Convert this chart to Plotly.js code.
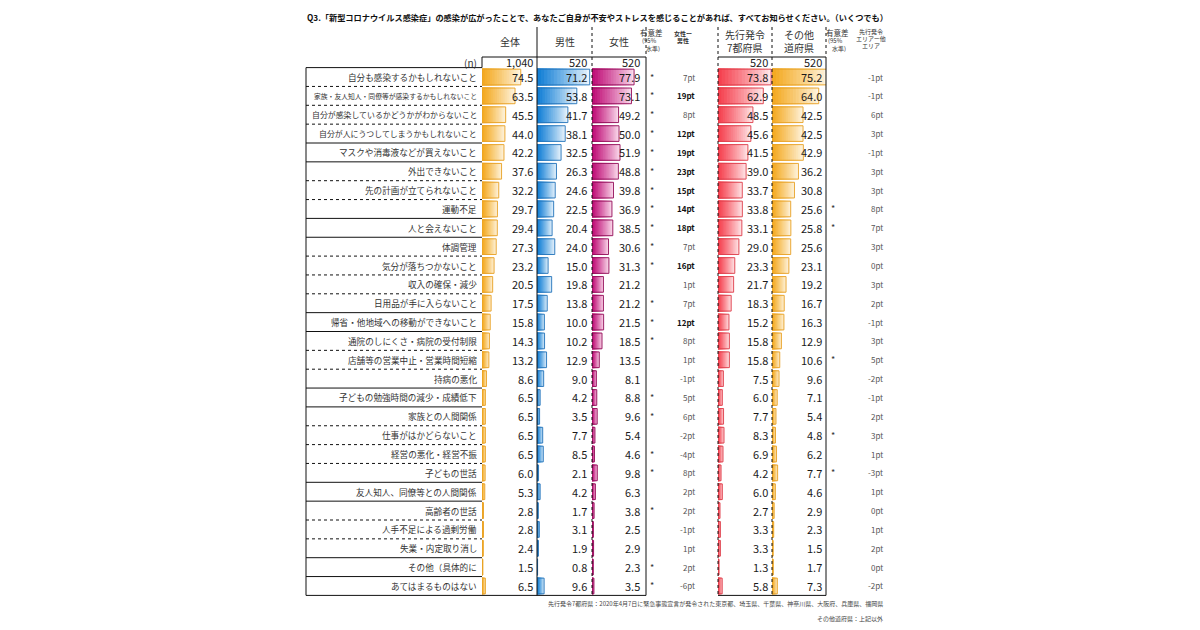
<!DOCTYPE html>
<html><head><meta charset="utf-8">
<script src="https://cdn.plot.ly/plotly-3.0.1.min.js"></script>
<style>body{margin:0;background:#fff}#chart{width:1200px;height:630px}</style>
</head><body><div id="chart"></div>
<script>
const titleText = "Q3.「新型コロナウイルス感染症」の感染が広がったことで、あなたご自身が不安やストレスを感じることがあれば、すべてお知らせください。（いくつでも）";
const labels = ["自分も感染するかもしれないこと","家族・友人知人・同僚等が感染するかもしれないこと","自分が感染しているかどうかがわからないこと","自分が人にうつしてしまうかもしれないこと","マスクや消毒液などが買えないこと","外出できないこと","先の計画が立てられないこと","運動不足","人と会えないこと","体調管理","気分が落ちつかないこと","収入の確保・減少","日用品が手に入らないこと","帰省・他地域への移動ができないこと","通院のしにくさ・病院の受付制限","店舗等の営業中止・営業時間短縮","持病の悪化","子どもの勉強時間の減少・成績低下","家族との人間関係","仕事がはかどらないこと","経営の悪化・経営不振","子どもの世話","友人知人、同僚等との人間関係","高齢者の世話","人手不足による過剰労働","失業・内定取り消し","その他（具体的に","あてはまるものはない"];
const total  = [74.5,63.5,45.5,44.0,42.2,37.6,32.2,29.7,29.4,27.3,23.2,20.5,17.5,15.8,14.3,13.2,8.6,6.5,6.5,6.5,6.5,6.0,5.3,2.8,2.8,2.4,1.5,6.5];
const male   = [71.2,53.8,41.7,38.1,32.5,26.3,24.6,22.5,20.4,24.0,15.0,19.8,13.8,10.0,10.2,12.9,9.0,4.2,3.5,7.7,8.5,2.1,4.2,1.7,3.1,1.9,0.8,9.6];
const female = [77.9,73.1,49.2,50.0,51.9,48.8,39.8,36.9,38.5,30.6,31.3,21.2,21.2,21.5,18.5,13.5,8.1,8.8,9.6,5.4,4.6,9.8,6.3,3.8,2.5,2.9,2.3,3.5];
const early  = [73.8,62.9,48.5,45.6,41.5,39.0,33.7,33.8,33.1,29.0,23.3,21.7,18.3,15.2,15.8,15.8,7.5,6.0,7.7,8.3,6.9,4.2,6.0,2.7,3.3,3.3,1.3,5.8];
const other  = [75.2,64.0,42.5,42.5,42.9,36.2,30.8,25.6,25.8,25.6,23.1,19.2,16.7,16.3,12.9,10.6,9.6,7.1,5.4,4.8,6.2,7.7,4.6,2.9,2.3,1.5,1.7,7.3];
const femSig  = [1,1,1,1,1,1,1,1,1,1,1,0,1,1,1,0,0,1,1,0,1,1,0,1,0,0,1,1];
const femDiff = [7,19,8,12,19,23,15,14,18,7,16,1,7,12,8,1,-1,5,6,-2,-4,8,2,2,-1,1,2,-6];
const areaSig  = [0,0,0,0,0,0,0,1,1,0,0,0,0,0,0,1,0,0,0,1,0,1,0,0,0,0,0,0];
const areaDiff = [-1,-1,6,3,-1,3,3,8,7,3,0,3,2,-1,3,5,-2,-1,2,3,1,-3,1,0,1,2,0,-2];
const nCounts = ["1,040","520","520","520","520"];
const footnotes = ["先行発令7都府県：2020年4月7日に緊急事態宣言が発令された東京都、埼玉県、千葉県、神奈川県、大阪府、兵庫県、福岡県","その他道府県：上記以外"];

const W = 1200, H = 630;
const px = v => v / W, py = v => 1 - v / H;
const FONT = "Noto Sans CJK JP, Noto Sans, sans-serif";
const TOP = 67.6, BOT = 595.4;
const idx = labels.map((_, i) => i);

const cols = [
  {vals: total,  ax: 'x',  x0: 482, x1: 537, scale: 0.52, dark: [244,170,34],  light: [254,244,224], border: '#E8A226', tr: 535},
  {vals: male,   ax: 'x2', x0: 537, x1: 592, scale: 0.74, dark: [20,128,214],  light: [234,244,252], border: '#2474BA', tr: 589},
  {vals: female, ax: 'x3', x0: 592, x1: 646, scale: 0.54, dark: [192,16,120],  light: [250,220,236], border: '#930D59', tr: 642},
  {vals: early,  ax: 'x4', x0: 718, x1: 772, scale: 0.72, dark: [245,66,80],   light: [255,230,232], border: '#DE3E4B', tr: 770},
  {vals: other,  ax: 'x5', x0: 772, x1: 826, scale: 0.73, dark: [244,170,34],  light: [254,244,224], border: '#E8A226', tr: 824}
];

const traces = [];
const layout = {
  width: W, height: H, margin: {l: 0, r: 0, t: 0, b: 0},
  paper_bgcolor: '#fff', plot_bgcolor: 'rgba(0,0,0,0)',
  showlegend: false, barmode: 'overlay', bargap: 0.17,
  font: {family: FONT, color: '#222'},
  yaxis: {domain: [py(BOT), py(TOP)], range: [27.5, -0.5], visible: false, fixedrange: true},
  shapes: [], annotations: []
};

const N = 16;
cols.forEach((c, ci) => {
  const axName = ci === 0 ? 'xaxis' : 'xaxis' + (ci + 1);
  layout[axName] = {domain: [px(c.x0), px(c.x1)], range: [0, (c.x1 - c.x0) / c.scale], visible: false, fixedrange: true, anchor: 'y'};
  for (let k = 0; k < N; k++) {
    const t = k / (N - 1);
    const col = `rgb(${c.light.map((l, j) => Math.round(l + (c.dark[j] - l) * Math.pow(t, 0.9)))})`;
    traces.push({type: 'bar', orientation: 'h', y: idx, x: c.vals.map(v => v * (N - k) / N),
      xaxis: c.ax, yaxis: 'y', marker: {color: col, line: {width: 0.8, color: col}}, hoverinfo: 'skip'});
  }
  traces.push({type: 'bar', orientation: 'h', y: idx, x: c.vals, xaxis: c.ax, yaxis: 'y',
    marker: {color: 'rgba(0,0,0,0)', line: {color: c.border, width: 0.9}}, hoverinfo: 'skip'});
  c.vals.forEach((v, i) => {
    layout.annotations.push({xref: 'paper', yref: 'y', x: px(c.tr), y: i, xanchor: 'right', yanchor: 'middle',
      text: v.toFixed(1), showarrow: false, font: {size: 11, color: '#1a1a1a', family: FONT}});
  });
  layout.annotations.push({xref: 'paper', yref: 'paper', x: px(c.tr), y: py(62.5), xanchor: 'right', yanchor: 'middle',
    text: nCounts[ci], showarrow: false, font: {size: 11, color: '#1a1a1a', family: FONT}});
});

// labels and difference columns
labels.forEach((l, i) => {
  const sz = i === 1 ? 6.8 : (l.length > 19 ? 7.9 : 8.6);
  layout.annotations.push({xref: 'paper', yref: 'y', x: px(479), y: i, xanchor: 'right', yanchor: 'middle',
    text: l, showarrow: false, font: {size: sz, color: '#333', family: FONT}});
  if (femSig[i]) layout.annotations.push({xref: 'paper', yref: 'y', x: px(648), y: i, xanchor: 'left', yanchor: 'middle',
    text: '*', showarrow: false, font: {size: 9, color: '#333', family: FONT}});
  if (areaSig[i]) layout.annotations.push({xref: 'paper', yref: 'y', x: px(829), y: i, xanchor: 'left', yanchor: 'middle',
    text: '*', showarrow: false, font: {size: 9, color: '#333', family: FONT}});
  const fd = femDiff[i] + 'pt';
  const strong = Math.abs(femDiff[i]) >= 10;
  layout.annotations.push({xref: 'paper', yref: 'y', x: px(697), y: i, xanchor: 'right', yanchor: 'middle',
    text: strong ? '<b>' + fd + '</b>' : fd, showarrow: false,
    font: {size: 8, color: strong ? '#111' : '#555', family: FONT}});
  layout.annotations.push({xref: 'paper', yref: 'y', x: px(885), y: i, xanchor: 'right', yanchor: 'middle',
    text: areaDiff[i] + 'pt', showarrow: false, font: {size: 8, color: '#555', family: FONT}});
});

// headers
const hdr = (text, x, y, size, opts = {}) => layout.annotations.push(Object.assign({xref: 'paper', yref: 'paper',
  x: px(x), y: py(y), xanchor: 'center', yanchor: 'middle', text, showarrow: false,
  font: {size, color: '#333', family: FONT}}, opts));
hdr('<b>' + titleText + '</b>', 305, 17, 8.2, {xanchor: 'left', font: {size: 8.2, color: '#111', family: FONT}});
hdr('全体', 510, 42, 10); hdr('男性', 565, 42, 10); hdr('女性', 619, 42, 10);
hdr('先行発令', 745, 34, 10); hdr('7都府県', 745, 48, 10);
hdr('その他', 799, 34, 10); hdr('道府県', 799, 48, 10);
[651, 837].forEach(x => { hdr('有意差', x, 32, 7.5); hdr('(95%', x - 2, 40.5, 6); hdr('水準)', x + 2, 49, 6); });
hdr('<b>女性ー</b>', 683, 33, 6); hdr('<b>男性</b>', 683, 41, 6);
hdr('先行発令', 871, 31, 6); hdr('エリアー他', 871, 38.5, 6); hdr('エリア', 871, 46, 6);
hdr('(n)', 479, 62.5, 10, {xanchor: 'right'});
hdr(footnotes[0], 885, 603, 6, {xanchor: 'right', font: {size: 6, color: '#444', family: FONT}});
hdr(footnotes[1], 885, 618, 6, {xanchor: 'right', font: {size: 6, color: '#444', family: FONT}});

// table lines
const L = (x0, y0, x1, y1, dash, yref) => layout.shapes.push({type: 'line', xref: 'paper', yref: yref || 'paper',
  x0: px(x0), x1: px(x1), y0: yref ? y0 : py(y0), y1: yref ? y1 : py(y1),
  line: {color: '#111', width: 1, dash: dash || 'solid'}});
const solidAfter = [3, 4, 7, 8, 12, 13, 16, 17, 21, 22, 25, 26];
for (let i = 0; i < labels.length - 1; i++) L(306, i + 0.5, 482, i + 0.5, solidAfter.includes(i) ? 'solid' : 'dot', 'y');
L(306, TOP, 482, TOP); L(306, TOP, 306, BOT);
L(306, BOT, 646, BOT); L(718, BOT, 826, BOT);
L(482, 57, 646, 57); L(718, 57, 826, 57); L(482, 57, 482, TOP);
L(537, 27, 537, BOT);
L(592, 27, 592, BOT, 'dot');
L(646, 27, 646, 57, 'dot'); L(646, 57, 646, BOT);
L(718, 27, 718, BOT, 'dot');
L(772, 27, 772, BOT, 'dot');
L(826, 27, 826, 57, 'dot'); L(826, 57, 826, BOT);

Plotly.newPlot('chart', traces, layout, {staticPlot: true, displayModeBar: false});
</script></body></html>
